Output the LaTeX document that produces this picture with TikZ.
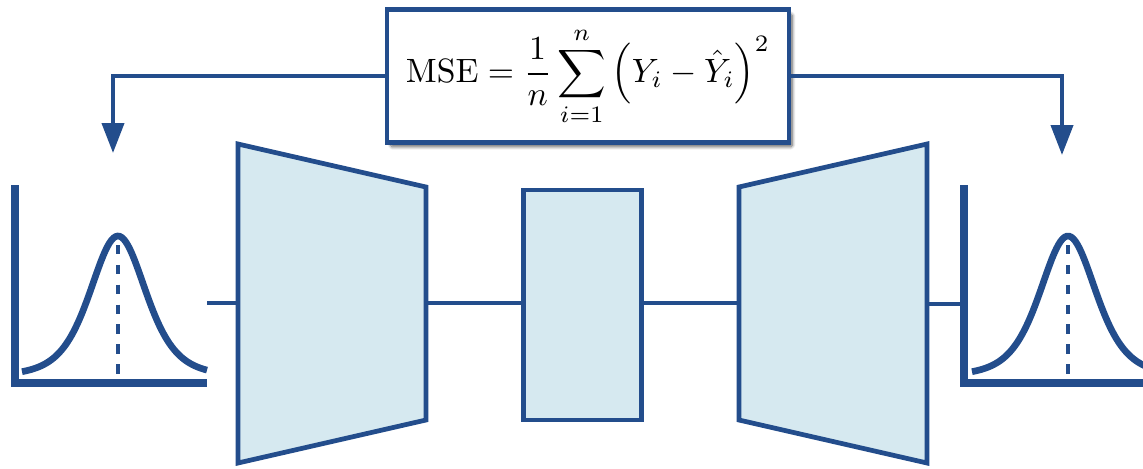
\documentclass[tikz,border=0pt]{standalone}
\usepackage{amsmath}
\usepackage{graphicx}
\usepackage{xcolor}
\usepackage{tikz}
\usetikzlibrary{arrows.meta, positioning, shadows.blur}
\definecolor{netblue}{RGB}{35,77,140}
\definecolor{netfill}{RGB}{214,233,240}
\tikzstyle{layer} = [draw=netblue, fill=netfill, line width=2.7pt, line join=miter]
\tikzstyle{link} = [draw=netblue, line width=2.2pt]
\tikzstyle{arrow} = [draw=netblue, line width=2.2pt, -{Triangle[width=12.5pt,length=17pt]}]
\tikzstyle{axis} = [draw=netblue, line width=4.7pt]
\tikzstyle{bell} = [draw=netblue, line width=3.8pt]
\tikzstyle{mean} = [draw=netblue, line width=2.3pt, dash pattern=on 5.4pt off 5.9pt]
\tikzstyle{lossbox} = [draw=netblue, line width=2.6pt, fill=white, minimum width=8.04cm, minimum height=2.66cm, blur shadow={shadow xshift=2pt, shadow yshift=-2.5pt, shadow blur steps=8, shadow blur extra rounding=1pt, shadow opacity=60}]

\begin{document}
\begin{tikzpicture}[x=0.02cm, y=-0.02cm]
    \clip (0,0) rectangle (1143,468);

    % Loss
    \node[lossbox] (mse) at (588,76) {\scalebox{1.92}{$\displaystyle \mathrm{MSE}=\frac{1}{n}\sum_{i=1}^{n}\Big(Y_i-\hat{Y}_i\Big)^2$}};

    % Input distribution
    \draw[axis] (15,185) -- (15,383) -- (207,383);
    \draw[bell] plot[domain=-96:89, samples=90] ({118+\x},{376-140/(1+\x*\x/4225)^3});
    \coordinate (in-peak) at (118,245);
    \coordinate (in-base) at (118,383);
    \draw[mean] (in-peak) -- (in-base);
    \coordinate (in-tip) at (113,153);
    \coordinate (in-end) at (207,303);

    % Encoder
    \draw[layer] (238,144) -- (426,187) -- (426,420) -- (238,463) -- cycle;
    \coordinate (enc-in) at (238,303);
    \coordinate (enc-out) at (426,303);

    % Latent
    \node[layer, minimum width=2.36cm, minimum height=4.6cm, inner sep=0pt] (lat) at (582.5,305) {};

    % Decoder
    \draw[layer] (739,187) -- (927,144) -- (927,463) -- (739,420) -- cycle;
    \coordinate (dec-in) at (739,303);
    \coordinate (dec-out) at (927,304);

    % Output distribution
    \draw[axis] (964,185) -- (964,383) -- (1150,383);
    \draw[bell] plot[domain=-96:96, samples=90] ({1068+\x},{376-140/(1+\x*\x/4225)^3});
    \coordinate (out-peak) at (1068,245);
    \coordinate (out-base) at (1068,383);
    \draw[mean] (out-peak) -- (out-base);
    \coordinate (out-tip) at (1062,155);
    \coordinate (out-end) at (964,304);

    % Connections
    \draw[link] (in-end) -- (enc-in);
    \draw[link] (enc-out) -- (enc-out -| lat.west);
    \draw[link] (dec-in -| lat.east) -- (dec-in);
    \draw[link] (dec-out) -- (out-end);
    \draw[arrow] (mse.west) -| (in-tip);
    \draw[arrow] (mse.east) -| (out-tip);
\end{tikzpicture}
\end{document}
